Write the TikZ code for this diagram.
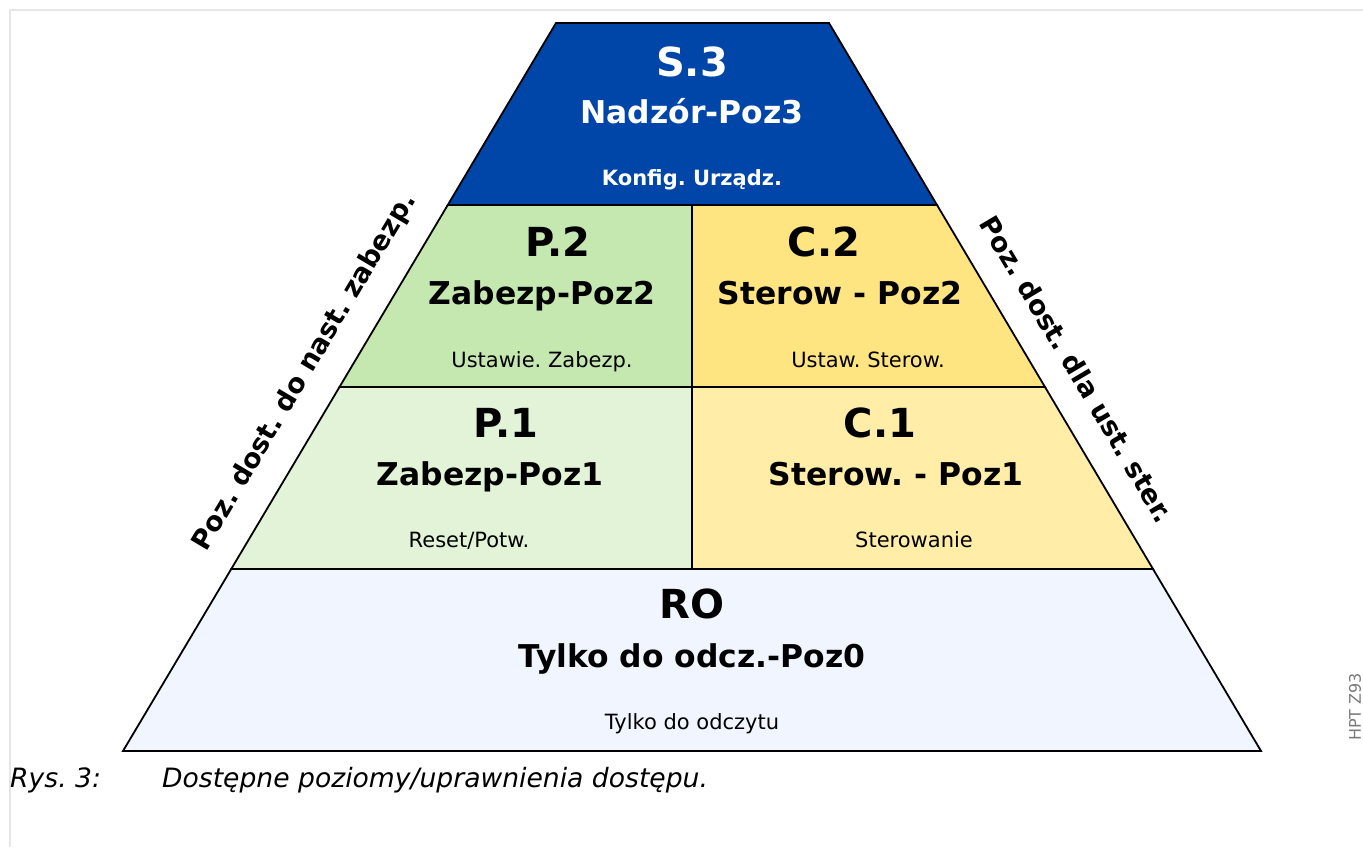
\documentclass[tikz,border=0pt]{standalone}
\usepackage{fontspec}
\setmainfont{DejaVu Sans}
\usetikzlibrary{calc, positioning}
\frenchspacing
\definecolor{s3}{RGB}{0, 69, 168}
\definecolor{p2}{RGB}{197, 232, 176}
\definecolor{p1}{RGB}{226, 243, 215}
\definecolor{c2}{RGB}{255, 228, 130}
\definecolor{c1}{RGB}{255, 237, 168}
\definecolor{ro}{RGB}{240, 245, 255}
\definecolor{frame}{HTML}{E6E6E6}
\definecolor{tag}{HTML}{7A7A7A}

\begin{document}
\begin{tikzpicture}[x=1pt, y=-1pt,
	band/.style={draw=black, line width=1.8pt, line join=miter},
	head/.style={anchor=base, inner sep=0pt, font=\fontsize{40}{44}\selectfont\bfseries},
	sub/.style={anchor=base, inner sep=0pt, font=\fontsize{31.4}{35}\selectfont\bfseries},
	note/.style={anchor=base, inner sep=0pt, font=\fontsize{21}{25}\selectfont},
	side/.style={inner sep=0pt, font=\fontsize{27}{30}\selectfont\bfseries}
]
			\useasboundingbox (0, 0) rectangle (1363, 847);
			\draw[draw=frame, line width=2pt] (10, 847) -- (10, 10) -- (1363, 10);
			
			\coordinate (L0) at (556, 23);
			\coordinate (R0) at (829, 23);
			\coordinate (L4) at (123, 751);
			\coordinate (R4) at (1261, 751);
			\coordinate (Mid) at (692, 23);
			
			\coordinate (L1) at ($(L0)!0.25!(L4)$);
			\coordinate (L2) at ($(L0)!0.5!(L4)$);
			\coordinate (L3) at ($(L0)!0.75!(L4)$);
			\coordinate (R1) at ($(R0)!0.25!(R4)$);
			\coordinate (R2) at ($(R0)!0.5!(R4)$);
			\coordinate (R3) at ($(R0)!0.75!(R4)$);
			
			\coordinate (M1) at (L1 -| Mid);
			\coordinate (M2) at (L2 -| Mid);
			\coordinate (M3) at (L3 -| Mid);
			
			\filldraw[band, fill=ro] (L3) -- (R3) -- (R4) -- (L4) -- cycle;
			\filldraw[band, fill=p1] (L2) -- (M2) -- (M3) -- (L3) -- cycle;
			\filldraw[band, fill=c1] (M2) -- (R2) -- (R3) -- (M3) -- cycle;
			\filldraw[band, fill=p2] (L1) -- (M1) -- (M2) -- (L2) -- cycle;
			\filldraw[band, fill=c2] (M1) -- (R1) -- (R2) -- (M2) -- cycle;
			\filldraw[band, fill=s3] (L0) -- (R0) -- (R1) -- (L1) -- cycle;
			
			% top level
			\node[head, text=white] (s3) at (692, 76) {S.3};
			\node[sub, text=white] (s3sub) at (692, 123) {Nadzór-Poz3};
			\node[note, text=white, font=\fontsize{21}{25}\selectfont\bfseries] (s3note) at (692, 185) {Konfig. Urządz.};
			
			\node[head] (p2) at (558, 256) {P.2};
			\node[sub] (p2sub) at (542, 304) {Zabezp-Poz2};
			\node[note] (p2note) at (542, 367) {Ustawie. Zabezp.};
			
			\node[head] (c2) at (824, 256) {C.2};
			\node[sub] (c2sub) at (840, 304) {Sterow - Poz2};
			\node[note] (c2note) at (868, 367) {Ustaw. Sterow.};
			
			\node[head] (p1) at (506, 437) {P.1};
			\node[sub] (p1sub) at (490, 485) {Zabezp-Poz1};
			\node[note] (p1note) at (469, 547) {Reset/Potw.};
			
			\node[head] (c1) at (880, 437) {C.1};
			\node[sub] (c1sub) at (896, 485) {Sterow. - Poz1};
			\node[note] (c1note) at (914, 547) {Sterowanie};
			
			% read only
			\node[head] (ro) at (692, 618) {RO};
			\node[sub] (rosub) at (692, 667) {Tylko do odcz.-Poz0};
			\node[note] (ronote) at (692, 729) {Tylko do odczytu};
			
			\node[side, rotate=59.26] (sideP) at (305, 372) {Poz. dost. do nast. zabezp.};
			\node[side, rotate=-59.26] (sideC) at (1077, 369) {Poz. dost. dla ust. ster.};
			
			\node[inner sep=0pt, rotate=90, text=tag, font=\fontsize{16}{18}\selectfont] (tag) at (1355, 707) {HPT Z93};
			
			\node[anchor=base west, inner sep=0pt, font=\fontsize{26.6}{30}\selectfont\itshape] (capnum) at (10, 787) {Rys. 3:};
			\node[anchor=base west, inner sep=0pt, font=\fontsize{26.6}{30}\selectfont\itshape] (captext) at (162, 787) {Dostępne poziomy/uprawnienia dostępu.};
			
		\end{tikzpicture}
\end{document}
